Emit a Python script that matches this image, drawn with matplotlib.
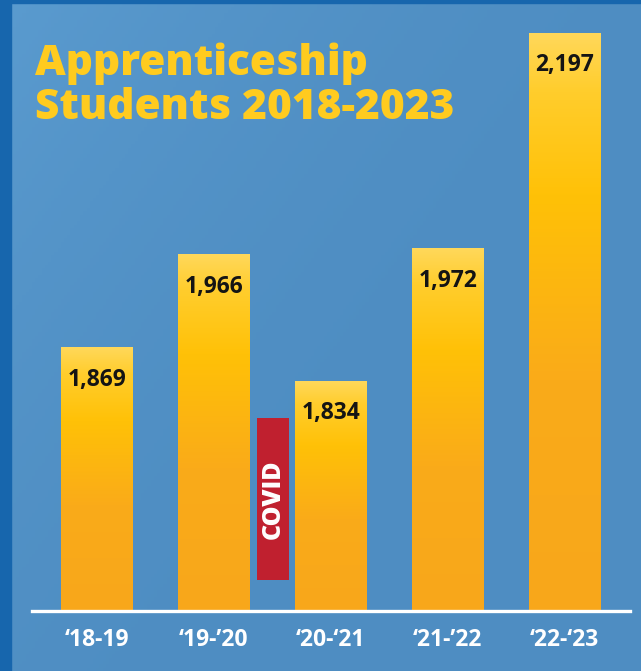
import matplotlib
matplotlib.use("Agg")
import matplotlib.pyplot as plt
import numpy as np
from matplotlib.colors import LinearSegmentedColormap
from matplotlib.patches import Rectangle

# ---- data ----
categories = ["\u201818-19", "\u201819-\u201920", "\u201820-\u201821", "\u201821-\u201922", "\u201822-\u201823"]
students = [1869, 1966, 1834, 1972, 2197]
value_labels = ["1,869", "1,966", "1,834", "1,972", "2,197"]
title_lines = ["Apprenticeship", "Students 2018-2023"]
covid_label = "COVID"

# ---- style ----
W, H, DPI = 641, 671, 100
BG = "#4f8ec3"
DARK = "#1766ad"
TITLE_C = "#ffcb1f"
RED = "#c0202f"
plt.rcParams['font.family'] = ['Open Sans', 'DejaVu Sans']

fig = plt.figure(figsize=(W / DPI, H / DPI), dpi=DPI)
fig.patch.set_facecolor(BG)

# background subtle gradient
bgax = fig.add_axes([0, 0, 1, 1], zorder=-5)
yy, xx = np.mgrid[0:1:200j, 0:1:200j]
g = np.clip(1.0 - (xx * 0.8 + (1 - yy) * 0.6), 0, 1) ** 2
bg_cmap = LinearSegmentedColormap.from_list("bg", ["#4e8dc2", "#5a9bcf"])
bgax.imshow(g, cmap=bg_cmap, extent=[0, 1, 0, 1], aspect='auto', origin='lower')
bgax.set_axis_off()
# frame strips
fig.patches.append(Rectangle((0, 0), 11 / W, 1, transform=fig.transFigure, color=DARK, zorder=-1))
fig.patches.append(Rectangle((0, 1 - 3 / H), 1, 3 / H, transform=fig.transFigure, color=DARK, zorder=-1))

ax = fig.add_axes([0, 60 / H, 1, 611 / H])
ax.set_facecolor("none")
ymin, ymax = 1594, 2232
spacing = 116.9
x = np.arange(len(students))
bw = 72 / spacing

bar_cmap = LinearSegmentedColormap.from_list(
    "bar", [(0.0, "#f8a71b"), (0.4, "#faab19"), (0.72, "#ffc107"), (0.9, "#ffcd2c"), (1.0, "#ffd85a")])
grad = np.linspace(0, 1, 256).reshape(-1, 1)
bars = ax.bar(x, np.array(students) - ymin, bottom=ymin, width=bw, color="none", edgecolor="none")
for b in bars:
    x0, y0 = b.get_x(), b.get_y()
    ax.imshow(grad, cmap=bar_cmap, origin='lower', aspect='auto',
              extent=[x0, x0 + b.get_width(), y0, y0 + b.get_height()], zorder=2)
ax.set_xlim(-97 / spacing, (641 - 97) / spacing)
ax.set_ylim(ymin, ymax)

for xi, v, lab in zip(x, students, value_labels):
    ax.annotate(lab, (xi, v), xytext=(0, -23), textcoords='offset points',
                ha='center', va='center', fontsize=16.5, fontweight='bold', color="#141414", zorder=4)

# COVID marker between 2nd and 3rd bars
cx = 1.506
cw = 32 / spacing
ax.bar([cx], [1796 - 1626], bottom=1626, width=cw, color=RED, zorder=3)
ax.text(cx, (1626 + 1796) / 2, covid_label, rotation=90, ha='center', va='center',
        color='white', fontsize=18, fontweight='heavy', zorder=4)

# baseline
ax.axhline(ymin, xmin=32 / W, xmax=630 / W, color='white', lw=2.4, clip_on=False, zorder=5)

ax.set_xticks(x)
ax.set_xticklabels(categories, color='white', fontsize=16.5, fontweight='bold')
ax.tick_params(axis='x', length=0, pad=12)
ax.set_yticks([])
for s in ax.spines.values():
    s.set_visible(False)

fig.text(35 / W, 1 - 75 / H, title_lines[0], color=TITLE_C, fontsize=30.5, fontweight='heavy', va='baseline')
fig.text(35 / W, 1 - 119 / H, title_lines[1], color=TITLE_C, fontsize=30.5, fontweight='heavy', va='baseline')

fig.savefig("out.png", dpi=DPI, facecolor=fig.get_facecolor())
